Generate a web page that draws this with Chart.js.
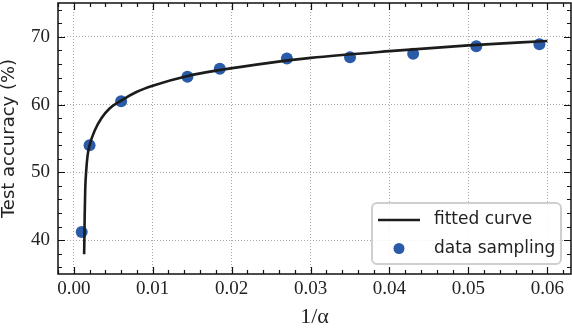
<!DOCTYPE html>
<html>
<head>
<meta charset="utf-8">
<script src="https://cdn.jsdelivr.net/npm/chart.js@4.4.1/dist/chart.umd.min.js"></script>
<style>
  html, body { margin: 0; padding: 0; background: #fff; }
  #wrap { position: relative; width: 572px; height: 330px; }
</style>
</head>
<body>
<div id="wrap"><canvas id="c" width="572" height="330"></canvas></div>
<script>
// ---- data ----
const sampleX = [0.001, 0.002, 0.006, 0.0144, 0.0185, 0.027, 0.035, 0.043, 0.051, 0.059];
const sampleY = [41.2, 54.0, 60.5, 64.1, 65.3, 66.8, 67.0, 67.5, 68.6, 68.9];

const fitX = [0.00131, 0.00134, 0.00138, 0.00145, 0.00156, 0.00175, 0.002, 0.0027, 0.0035, 0.0045, 0.006, 0.008, 0.01, 0.0143, 0.0185, 0.025, 0.03, 0.04, 0.05, 0.06];
const fitY = [37.9, 40.0, 43.5, 47.5, 50.0, 52.5, 54.0, 56.3, 58.0, 59.4, 60.6, 61.9, 62.8, 64.2, 65.1, 66.2, 66.9, 67.9, 68.75, 69.4];

const xTicks = [0.00, 0.01, 0.02, 0.03, 0.04, 0.05, 0.06];
const yTicks = [40, 50, 60, 70];

const seriesLabels = ['fitted curve', 'data sampling'];
const lineColor = '#1c1c1c';
const dotColor = '#2a5ba8';

const SERIF = "'Liberation Serif', 'DejaVu Serif', serif";
const SANS = "'DejaVu Sans', sans-serif";

// inward ticks on all four sides + frame
const frameTicks = {
  id: 'frameTicks',
  afterDatasetsDraw(chart) {
    const {ctx, chartArea: a, scales: {x, y}} = chart;
    ctx.save();
    ctx.strokeStyle = '#111';
    ctx.lineWidth = 1.2;
    ctx.beginPath();
    for (let i = Math.ceil(x.min / 0.002); i * 0.002 <= x.max + 1e-9; i++) {
      const v = i * 0.002;
      const px = Math.round(x.getPixelForValue(v)) + 0.5;
      const len = (i % 5 === 0) ? 7 : 4;
      ctx.moveTo(px, a.bottom); ctx.lineTo(px, a.bottom - len);
      ctx.moveTo(px, a.top); ctx.lineTo(px, a.top + len);
    }
    for (let i = Math.ceil(y.min / 2); i * 2 <= y.max; i++) {
      const v = i * 2;
      const py = Math.round(y.getPixelForValue(v)) + 0.5;
      const len = (v % 10 === 0) ? 7 : 4;
      ctx.moveTo(a.left, py); ctx.lineTo(a.left + len, py);
      ctx.moveTo(a.right, py); ctx.lineTo(a.right - len, py);
    }
    ctx.stroke();
    ctx.lineWidth = 1.5;
    ctx.strokeRect(a.left, a.top, a.right - a.left, a.bottom - a.top);
    ctx.restore();
  }
};

// legend box in the lower right of the plot area
const boxLegend = {
  id: 'boxLegend',
  afterDraw(chart) {
    const {ctx, chartArea: a} = chart;
    const w = 189, h = 61;
    const bx = a.right - 10 - w, by = a.bottom - 10 - h;
    ctx.save();
    ctx.beginPath();
    const r = 5;
    ctx.moveTo(bx + r, by);
    ctx.arcTo(bx + w, by, bx + w, by + h, r);
    ctx.arcTo(bx + w, by + h, bx, by + h, r);
    ctx.arcTo(bx, by + h, bx, by, r);
    ctx.arcTo(bx, by, bx + w, by, r);
    ctx.closePath();
    ctx.fillStyle = 'rgba(255,255,255,0.85)';
    ctx.fill();
    ctx.strokeStyle = '#cfcfcf';
    ctx.lineWidth = 2;
    ctx.stroke();
    const ds = chart.data.datasets;
    const row1 = by + 17, row2 = by + 45.5;
    ctx.strokeStyle = ds[0].borderColor;
    ctx.lineWidth = 2.5;
    ctx.beginPath();
    ctx.moveTo(bx + 6, row1); ctx.lineTo(bx + 48, row1);
    ctx.stroke();
    ctx.fillStyle = ds[1].backgroundColor;
    ctx.beginPath();
    ctx.arc(bx + 27, row2, 5.5, 0, Math.PI * 2);
    ctx.fill();
    ctx.fillStyle = '#222';
    ctx.font = "17px " + SANS;
    ctx.textBaseline = 'middle';
    ctx.textAlign = 'left';
    ctx.fillText(ds[0].label, bx + 62, row1);
    ctx.fillText(ds[1].label, bx + 62, row2);
    ctx.restore();
  }
};

new Chart(document.getElementById('c'), {
  type: 'scatter',
  data: {
    datasets: [
      {
        type: 'line',
        label: seriesLabels[0],
        data: fitX.map((v, i) => ({x: v, y: fitY[i]})),
        borderColor: lineColor,
        backgroundColor: lineColor,
        borderWidth: 2.6,
        pointRadius: 0,
        cubicInterpolationMode: 'monotone',
        fill: false,
        order: 0
      },
      {
        label: seriesLabels[1],
        data: sampleX.map((v, i) => ({x: v, y: sampleY[i]})),
        backgroundColor: dotColor,
        borderColor: dotColor,
        borderWidth: 0,
        pointRadius: 6,
        order: 1
      }
    ]
  },
  options: {
    responsive: false,
    animation: false,
    layout: { autoPadding: false, padding: { top: 3, right: 1, left: 0, bottom: 0 } },
    plugins: { legend: { display: false }, tooltip: { enabled: false } },
    scales: {
      x: {
        type: 'linear',
        min: -0.002,
        max: 0.063,
        afterBuildTicks: s => { s.ticks = xTicks.map(v => ({value: v})); },
        afterFit: s => { s.height = 56; s.paddingLeft = 0; s.paddingRight = 0; },
        ticks: {
          callback: v => Number(v).toFixed(2),
          font: { family: SERIF, size: 19 },
          color: '#222',
          padding: 4,
          maxRotation: 0,
          autoSkip: false
        },
        grid: { color: '#a8a8a8', borderDash: [1, 2], lineWidth: 1, drawTicks: false },
        border: { display: false, dash: [1, 2] },
        title: {
          display: true,
          text: '1/α',
          font: { family: SERIF, size: 22 },
          color: '#222',
          padding: { top: 1, bottom: 0 }
        }
      },
      y: {
        type: 'linear',
        min: 35,
        max: 75,
        afterBuildTicks: s => { s.ticks = yTicks.map(v => ({value: v})); },
        afterFit: s => { s.width = 58; s.paddingTop = 0; s.paddingBottom = 0; },
        ticks: {
          font: { family: SERIF, size: 19 },
          color: '#222',
          padding: 8,
          autoSkip: false
        },
        grid: { color: '#a8a8a8', borderDash: [1, 2], lineWidth: 1, drawTicks: false },
        border: { display: false, dash: [1, 2] },
        title: {
          display: true,
          text: 'Test accuracy (%)',
          font: { family: SANS, size: 18, lineHeight: 1 },
          color: '#222',
          padding: { top: 0, bottom: 0 }
        }
      }
    }
  },
  plugins: [frameTicks, boxLegend]
});
</script>
</body>
</html>
